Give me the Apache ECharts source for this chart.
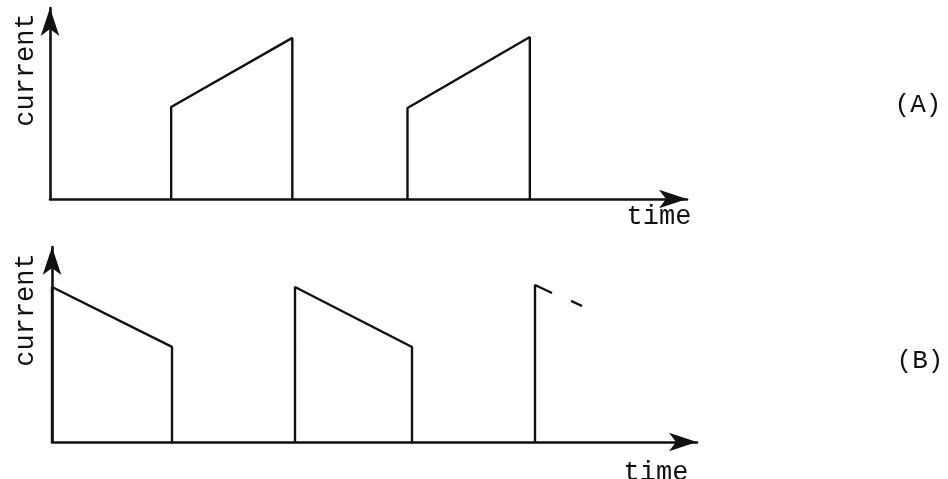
<!DOCTYPE html>
<html>
<head>
<meta charset="utf-8">
<script src="https://cdn.jsdelivr.net/npm/echarts@6/dist/echarts.min.js"></script>
<style>
  html, body { margin: 0; padding: 0; background: #fff; }
  #main { width: 948px; height: 479px; }
</style>
</head>
<body>
<div id="main"></div>
<script>
// Panel (A): current ramps up during each pulse
let riseA = [1.01, 2.98];
let fallA = [2.02, 4.0];
let startA = [0.52, 0.514];
let endA = [0.91, 0.915];

// Panel (B): current ramps down during each pulse
let riseB = [0, 2.025, 4.025];
let fallB = [1.0, 3.0];
let startB = [0.856, 0.856, 0.867];
let endB = [0.525, 0.525];
// last pulse only starts, then a short dash
let tailB = [[4.025, 0.867], [4.167, 0.823]];
let dashB = [[4.325, 0.779], [4.417, 0.751]];

const ink = '#111';

function pulseSeries(xIndex, points, width) {
    return {
        type: 'line',
        xAxisIndex: xIndex,
        yAxisIndex: xIndex,
        data: points,
        showSymbol: false,
        silent: true,
        lineStyle: { color: ink, width: width }
    };
}

let series = [];
for (let i = 0; i < riseA.length; i++) {
    series.push(pulseSeries(0, [[riseA[i], 0], [riseA[i], startA[i]], [fallA[i], endA[i]], [fallA[i], 0]], 2.4));
}
for (let i = 0; i < fallB.length; i++) {
    series.push(pulseSeries(1, [[riseB[i], 0], [riseB[i], startB[i]], [fallB[i], endB[i]], [fallB[i], 0]], 2.4));
}
series.push(pulseSeries(1, [[riseB[2], 0]].concat(tailB), 2.4));
series.push(pulseSeries(1, dashB, 2.4));

function axisCommon(max) {
    return {
        type: 'value',
        min: 0,
        max: max,
        axisLine: {
            show: true,
            onZero: false,
            symbol: ['none', 'arrow'],
            symbolSize: [14, 28],
            lineStyle: { color: ink, width: 2.6 }
        },
        axisTick: { show: false },
        axisLabel: { show: false },
        splitLine: { show: false }
    };
}

const mono = '"Liberation Mono", "DejaVu Sans Mono", monospace';
function label(text, x, y, size, rotate) {
    return {
        type: 'text',
        x: x,
        y: y,
        rotation: rotate ? Math.PI / 2 : 0,
        style: {
            text: text,
            fill: ink,
            font: size + 'px ' + mono,
            textAlign: 'center',
            textVerticalAlign: 'middle'
        }
    };
}

let myChart = echarts.init(document.getElementById('main'));
let option = {
    animation: false,
    grid: [
        { left: 50, top: 8, width: 637, height: 191 },
        { left: 52, top: 247, width: 645, height: 195 }
    ],
    xAxis: [
        Object.assign(axisCommon(5.31), { gridIndex: 0 }),
        Object.assign(axisCommon(5.375), { gridIndex: 1 })
    ],
    yAxis: [
        Object.assign(axisCommon(1.079), { gridIndex: 0 }),
        Object.assign(axisCommon(1.077), { gridIndex: 1 })
    ],
    graphic: [
        label('current', 26, 70, 27, true),
        label('time', 659, 217, 27, false),
        label('(A)', 918, 105, 26, false),
        label('current', 26, 310, 27, true),
        label('time', 656, 473, 27, false),
        label('(B)', 920, 361, 26, false)
    ],
    series: series
};
myChart.setOption(option);
</script>
</body>
</html>
